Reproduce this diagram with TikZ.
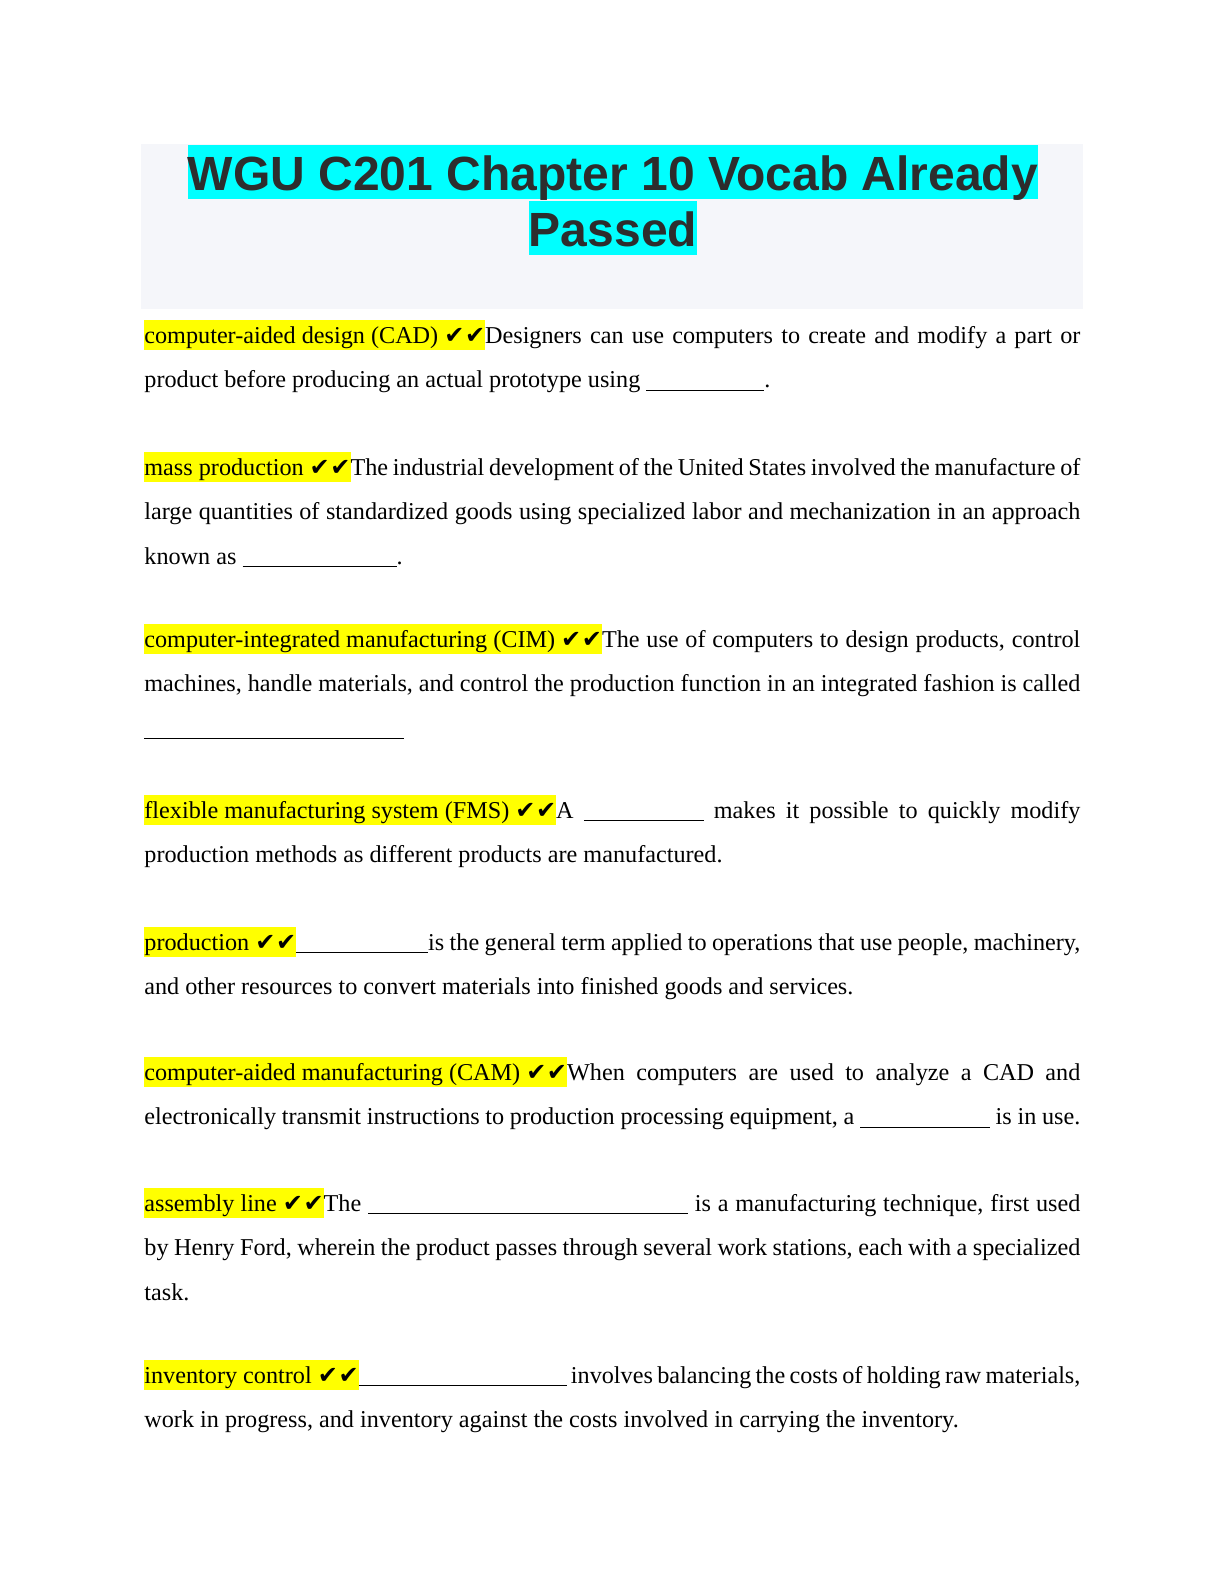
\documentclass[tikz,border=0pt]{standalone}
\usepackage{fontspec}
\setmainfont{Liberation Serif}
\newfontfamily\arialf{Liberation Sans}
\newfontfamily\dejav{DejaVu Sans}
\definecolor{titlebg}{HTML}{F5F6FA}
\definecolor{titlefg}{HTML}{2D2D2D}
\definecolor{hcyan}{HTML}{00FFFF}
\definecolor{hyel}{HTML}{FFFF00}
\newcommand\hlt[1]{{\setlength\fboxsep{0pt}\colorbox{hyel}{\rule[-3.5pt]{0pt}{15pt}#1}}}
\newcommand\ck{{\dejav\fontsize{12}{12}\selectfont ✔\kern0.3pt✔}}
\newcommand\bl[1]{\rule[-1.5pt]{#1}{0.5pt}}
\begin{document}
\hyphenpenalty=10000
\begin{tikzpicture}[x=0.5pt,y=-0.5pt,
  ttl/.style={fill=hcyan,inner sep=0pt,text height=22.7pt,text depth=4.6pt,anchor=base,font=\arialf\bfseries\fontsize{24}{28}\selectfont,text=titlefg},
  para/.style={anchor=north west,text width=468pt,align=justify,inner sep=0pt,font=\fontsize{12.1}{22.2}\selectfont}]
\path[use as bounding box] (0,0) rectangle (1224,1584);
\fill[titlebg] (141,144) rectangle (1083,309);
\node[ttl] (t1) at (613,190) {WGU C201 Chapter 10 Vocab Already};
\node[ttl] (t2) at (613,246) {Passed};
\node[para] (p1) at (144,320) {\hlt{computer-aided design (CAD) \ck}Designers can use computers to create and modify a part or\linebreak product before producing an actual prototype using \bl{59pt}.};
\node[para] (p2) at (144,452) {\hlt{mass production \ck}The industrial development of the United States involved the manufacture of\linebreak large quantities of standardized goods using specialized labor and mechanization in an approach\linebreak known as \bl{77pt}.};
\node[para] (p3) at (144,624) {\hlt{computer-integrated manufacturing (CIM) \ck}The use of computers to design products, control\linebreak machines, handle materials, and control the production function in an integrated fashion is called\linebreak \bl{130pt}};
\node[para] (p4) at (144,795) {\hlt{flexible manufacturing system (FMS) \ck}A \bl{60pt} makes it possible to quickly modify\linebreak production methods as different products are manufactured.};
\node[para] (p5) at (144,927) {\hlt{production \ck}\bl{66pt}is the general term applied to operations that use people, machinery,\linebreak and other resources to convert materials into finished goods and services.};
\node[para] (p6) at (144,1057) {\hlt{computer-aided manufacturing (CAM) \ck}When computers are used to analyze a CAD and\linebreak electronically transmit instructions to production processing equipment, a \bl{65pt} is in use.};
\node[para] (p7) at (144,1188) {\hlt{assembly line \ck}The \bl{160pt} is a manufacturing technique, first used\linebreak by Henry Ford, wherein the product passes through several work stations, each with a specialized\linebreak task.};
\node[para] (p8) at (144,1360) {\hlt{inventory control \ck}\bl{104pt} involves balancing the costs of holding raw materials,\linebreak work in progress, and inventory against the costs involved in carrying the inventory.};
\end{tikzpicture}
\end{document}
